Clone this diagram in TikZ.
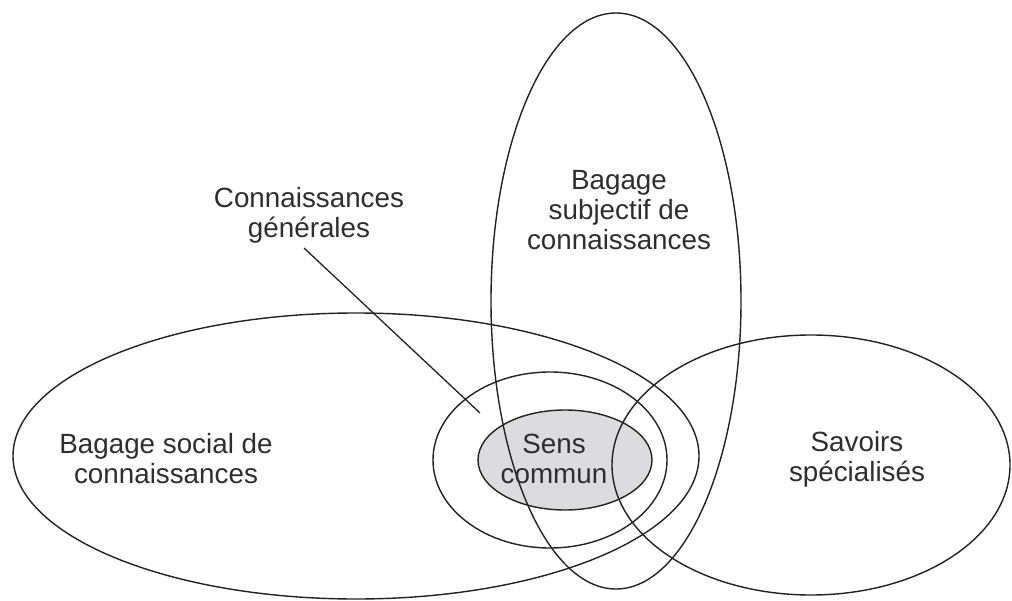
\documentclass[tikz,border=0pt]{standalone}
\usepackage{fontspec}
\setmainfont{Liberation Sans}
\usetikzlibrary{shapes.geometric}
\definecolor{inkc}{HTML}{222222}
\definecolor{txtc}{HTML}{2E2E2E}
\definecolor{fillc}{HTML}{DCDCDE}
\tikzset{
  zone/.style={draw=inkc, line width=1.4pt, ellipse, inner sep=0pt, outer sep=0pt},
  lbl/.style={text=txtc, align=center, font=\fontsize{27.8}{30}\selectfont, inner sep=0pt},
  lead/.style={draw=inkc, line width=1.3pt}
}
\begin{document}
\begin{tikzpicture}[x=1pt,y=-1pt]
\useasboundingbox (0,0) rectangle (1012,601);
% shapes
\node[zone, fill=fillc, minimum width=174pt, minimum height=100pt] (sens) at (565,460) {};
\node[zone, minimum width=234pt, minimum height=176pt] (gen) at (550,460) {};
\node[zone, minimum width=686pt, minimum height=286pt] (social) at (356,456) {};
\node[zone, minimum width=250pt, minimum height=576pt] (subj) at (616,301) {};
\node[zone, minimum width=398pt, minimum height=260pt] (spec) at (811,465) {};
% labels
\node[lbl] (tsens) at (554,459) {Sens\\commun};
\node[lbl] (tsocial) at (166,459) {Bagage social de\\connaissances};
\node[lbl] (tsubj) at (619,210) {Bagage\\subjectif de\\connaissances};
\node[lbl] (tspec) at (857,459) {Savoirs\\spécialisés};
\node[lbl] (tgen) at (309,215) {Connaissances\\générales};
% leader
\coordinate (genpt) at (480,413);
\draw[lead] (304,248) -- (genpt);
\end{tikzpicture}
\end{document}
